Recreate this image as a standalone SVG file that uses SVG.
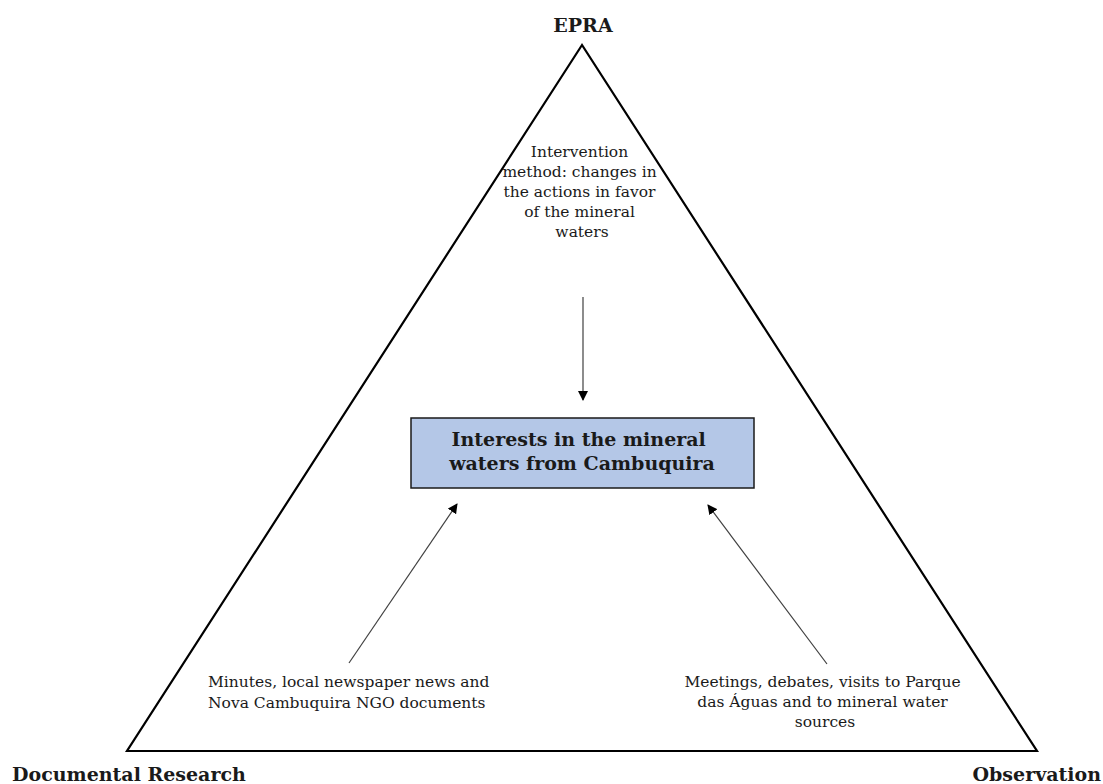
<svg xmlns="http://www.w3.org/2000/svg" width="1103" height="784" viewBox="0 0 1103 784">
<style>
.t{font-family:"DejaVu Serif","Liberation Serif",serif;fill:#1a1a1a;}
.body{font-size:15.5px;}
.bold{font-weight:bold;font-size:19px;}
.box{font-weight:bold;font-size:19px;}
.conn{stroke:#404040;stroke-width:1.2;fill:none;marker-end:url(#ah);}
</style>
<defs>
<marker id="ah" markerWidth="10" markerHeight="10" refX="9" refY="5" orient="auto" markerUnits="userSpaceOnUse">
<path d="M0,0 L10,5 L0,10 Z" fill="#000"/>
</marker>
</defs>
<rect width="1103" height="784" fill="#fff"/>
<g id="triangle">
<polygon points="582,45 127,751 1037,751" fill="none" stroke="#000" stroke-width="2.2" stroke-linejoin="miter"/>
</g>
<g id="epra"><text class="t bold" x="583" y="32" text-anchor="middle">EPRA</text></g>
<g id="documental"><text class="t bold" x="12" y="781">Documental Research</text></g>
<g id="observation"><text class="t bold" x="1101" y="781" text-anchor="end">Observation</text></g>
<g id="intervention">
<text class="t body" text-anchor="middle">
<tspan x="582" y="157">Intervention</tspan>
<tspan x="582" y="177">method: changes in</tspan>
<tspan x="582" y="197">the actions in favor</tspan>
<tspan x="582" y="217">of the mineral</tspan>
<tspan x="582" y="237">waters</tspan>
</text>
</g>
<g id="interests">
<rect x="411" y="418" width="343" height="70" fill="#b4c7e7" stroke="#1a1a1a" stroke-width="1.5"/>
<text class="t box" text-anchor="middle">
<tspan x="582" y="446">Interests in the mineral</tspan>
<tspan x="582" y="470">waters from Cambuquira</tspan>
</text>
</g>
<g id="minutes">
<text class="t body">
<tspan x="208" y="687">Minutes, local newspaper news and</tspan>
<tspan x="208" y="708">Nova Cambuquira NGO documents</tspan>
</text>
</g>
<g id="meetings">
<text class="t body" text-anchor="middle">
<tspan x="825" y="687">Meetings, debates, visits to Parque</tspan>
<tspan x="825" y="707">das Águas and to mineral water</tspan>
<tspan x="825" y="727">sources</tspan>
</text>
</g>
<g id="connectors">
<line class="conn" x1="583" y1="297" x2="583" y2="400"/>
<line class="conn" x1="349" y1="663" x2="457" y2="504"/>
<line class="conn" x1="827" y1="664" x2="708" y2="505"/>
</g>
</svg>
